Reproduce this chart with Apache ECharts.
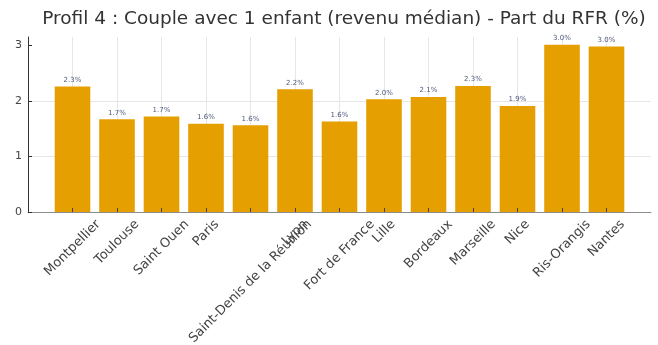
<!DOCTYPE html>
<html>
<head>
<meta charset="utf-8">
<script src="https://cdn.jsdelivr.net/npm/echarts@6/dist/echarts.min.js"></script>
<style>
  html, body { margin: 0; padding: 0; background: #fff; }
  #chart { width: 658px; height: 345px; }
</style>
</head>
<body>
<div id="chart"></div>
<script>
// Share of reference taxable income (%) per city, profile 4
const cities = ['Montpellier', 'Toulouse', 'Saint Ouen', 'Paris', 'Saint-Denis de la Réunion', 'Lyon',
  'Fort de France', 'Lille', 'Bordeaux', 'Marseille', 'Nice', 'Ris-Orangis', 'Nantes'];
const shares = [2.26, 1.67, 1.72, 1.59, 1.56, 2.21, 1.63, 2.03, 2.07, 2.27, 1.91, 3.01, 2.98];
const yTicks = [0, 1, 2, 3];
const titleText = 'Profil 4 : Couple avec 1 enfant (revenu médian) - Part du RFR (%)';

const FONT = 'DejaVu Sans';
const LABEL_SIZE = 13;
const LINE_H = 15;

// Rotated city names are centred under their tick: measure each name, then
// push it back along its baseline (right padding) and down across it (line
// height) so that its middle sits straight below the tick.
const ctx = document.createElement('canvas').getContext('2d');
ctx.font = LABEL_SIZE + 'px "' + FONT + '"';
function centredLabel(name) {
  const w = ctx.measureText(name).width;
  const s = (w + LINE_H) / 2;
  return {
    value: name,
    textStyle: { align: 'center', verticalAlign: 'top', lineHeight: s, padding: [0, s, 0, 0] }
  };
}

// An empty slot on each side keeps a margin between the spines and the outer bars.
const categories = [{ value: ' ' }].concat(cities.map(centredLabel), [{ value: '  ' }]);
const barValues = ['-'].concat(shares, ['-']);
const lastIdx = categories.length - 1;
const innerOnly = (idx) => idx > 0 && idx < lastIdx;

const chart = echarts.init(document.getElementById('chart'), null, { renderer: 'canvas' });
chart.setOption({
  animation: false,
  backgroundColor: '#ffffff',
  textStyle: { fontFamily: FONT },
  title: {
    text: titleText,
    left: 339,
    textAlign: 'center',
    top: 5,
    textStyle: { fontFamily: FONT, fontSize: 18.5, fontWeight: 'normal', color: '#333333' }
  },
  grid: { left: 28, right: 7, top: 37, bottom: 133, containLabel: false, outerBoundsMode: 'none' },
  xAxis: [{
    type: 'category',
    data: categories,
    boundaryGap: false,
    position: 'bottom',
    axisLine: { show: true, lineStyle: { color: '#8c8c8c', width: 1 } },
    axisTick: { show: false },
    axisLabel: {
      interval: 0, rotate: 45, margin: 5,
      fontSize: LABEL_SIZE, color: '#444444', fontFamily: FONT
    },
    splitLine: { show: true, interval: innerOnly, lineStyle: { color: '#e6e6e6', width: 1 } }
  }, {
    type: 'category',
    data: categories,
    boundaryGap: false,
    position: 'bottom',
    offset: 0,
    z: 10,
    axisLine: { show: false },
    axisLabel: { show: false },
    axisTick: { show: true, inside: true, length: 4, interval: innerOnly, lineStyle: { color: '#444444', width: 1 } },
    splitLine: { show: false }
  }],
  yAxis: {
    type: 'value',
    min: 0,
    max: 3.15,
    interval: 1,
    axisLine: { show: true, lineStyle: { color: '#333333', width: 1 } },
    axisTick: { show: true, inside: true, length: 4, customValues: yTicks, lineStyle: { color: '#333333' } },
    axisLabel: { customValues: yTicks, margin: 6, fontSize: 11, color: '#444444', fontFamily: FONT },
    splitLine: { show: true, showMaxLine: false, lineStyle: { color: '#e6e6e6', width: 1 } }
  },
  series: [{
    type: 'bar',
    xAxisIndex: 0,
    data: barValues,
    barWidth: '80%',
    itemStyle: { color: '#E69F00' },
    label: {
      show: true,
      position: 'top',
      distance: 3,
      fontSize: 7,
      color: '#4f5b7a',
      fontFamily: FONT,
      formatter: (p) => (typeof p.value === 'number' ? p.value.toFixed(1) + '%' : '')
    }
  }]
});
</script>
</body>
</html>
